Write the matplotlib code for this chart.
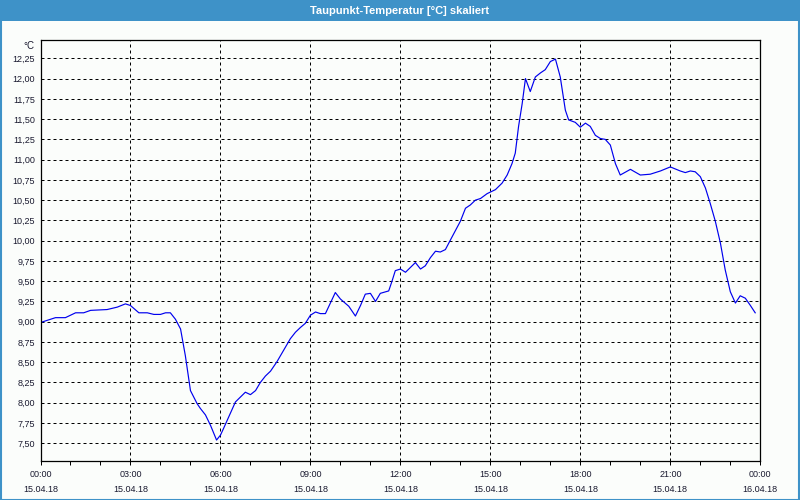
import matplotlib.pyplot as plt
from matplotlib.patches import Rectangle

# hours since 15.04.18 00:00
hours = [0, 0.5, 0.83, 1.17, 1.44, 1.67, 2.22, 2.56, 2.83, 3.0, 3.28, 3.56, 3.78, 4.0,
         4.17, 4.33, 4.5, 4.67, 4.83, 5.0, 5.22, 5.33, 5.5, 5.67, 5.87, 6.0, 6.1, 6.33,
         6.5, 6.83, 7.0, 7.17, 7.33, 7.5, 7.67, 7.89, 8.11, 8.33, 8.5, 8.67, 8.83, 9.0,
         9.17, 9.33, 9.5, 9.83, 10.0, 10.28, 10.5, 10.67, 10.83, 11.0, 11.17, 11.33,
         11.61, 11.72, 11.83, 12.0, 12.17, 12.5, 12.67, 12.83, 13.0, 13.17, 13.33, 13.5,
         13.67, 14.0, 14.17, 14.33, 14.5, 14.67, 14.89, 15.17, 15.39, 15.56, 15.72,
         15.83, 15.94, 16.06, 16.17, 16.33, 16.5, 16.67, 16.83, 17.0, 17.17, 17.33,
         17.5, 17.61, 17.83, 18.0, 18.17, 18.33, 18.5, 18.67, 18.83, 19.0, 19.17,
         19.33, 19.67, 20.0, 20.33, 20.67, 21.0, 21.33, 21.5, 21.67, 21.83, 22.0,
         22.17, 22.33, 22.5, 22.67, 22.83, 23.0, 23.17, 23.33, 23.5, 23.67, 23.83]
dewpoint = [8.99, 9.05, 9.05, 9.11, 9.11, 9.14, 9.15, 9.18, 9.22, 9.20, 9.11, 9.11, 9.09, 9.09,
            9.11, 9.11, 9.03, 8.91, 8.58, 8.15, 7.99, 7.93, 7.85, 7.72, 7.54, 7.60, 7.68, 7.87,
            8.01, 8.13, 8.10, 8.15, 8.25, 8.33, 8.39, 8.51, 8.65, 8.79, 8.87, 8.93, 8.98, 9.08,
            9.12, 9.10, 9.10, 9.36, 9.28, 9.19, 9.07, 9.20, 9.34, 9.35, 9.25, 9.35,
            9.38, 9.50, 9.63, 9.65, 9.61, 9.73, 9.65, 9.69, 9.79, 9.87, 9.86, 9.89,
            10.01, 10.24, 10.40, 10.44, 10.50, 10.52, 10.58, 10.63, 10.71, 10.81, 10.95,
            11.08, 11.41, 11.69, 12.00, 11.84, 12.02, 12.07, 12.11, 12.21, 12.24, 12.02,
            11.61, 11.49, 11.46, 11.40, 11.45, 11.41, 11.30, 11.26, 11.25, 11.18, 10.95,
            10.81, 10.88, 10.81, 10.82, 10.86, 10.91, 10.86, 10.84, 10.86, 10.85, 10.79,
            10.65, 10.46, 10.24, 9.97, 9.64, 9.37, 9.23, 9.32, 9.29, 9.20, 9.11]

major_hours = [0, 3, 6, 9, 12, 15, 18, 21, 24]
major_labels = ["00:00\n15.04.18", "03:00\n15.04.18", "06:00\n15.04.18", "09:00\n15.04.18",
                "12:00\n15.04.18", "15:00\n15.04.18", "18:00\n15.04.18", "21:00\n15.04.18",
                "00:00\n16.04.18"]
y_ticks = [7.5 + 0.25 * i for i in range(20)]
y_labels = [f"{v:.2f}".replace(".", ",") for v in y_ticks]

title_blue = "#3e92c8"
bg = "#fbfdfb"
text_col = "#1a1a30"
font = "Liberation Sans"

fig = plt.figure(figsize=(8, 5), dpi=100, facecolor=bg)

# title bar and border
fig.patches.append(Rectangle((0, 1 - 20.5 / 500), 1, 20.5 / 500, transform=fig.transFigure,
                             facecolor=title_blue, edgecolor="none"))
fig.patches.append(Rectangle((0.5 / 800, 0.5 / 500), 1 - 1.5 / 800, 1 - 1.5 / 500,
                             transform=fig.transFigure, facecolor="none",
                             edgecolor=title_blue, linewidth=1.5))
fig.text(0.5, 1 - 10.5 / 500, "Taupunkt-Temperatur [°C] skaliert", color="white",
         ha="center", va="center", fontsize=8, fontweight="semibold", family=font)

ax = fig.add_axes([40.5 / 800, 39.3 / 500, 719.8 / 800, 420.7 / 500])
ax.set_facecolor(bg)
ax.plot(hours, dewpoint, color="#0000ee", linewidth=0.85)

ax.set_xlim(0, 24)
ax.set_ylim(7.285, 12.476)
ax.set_xticks(major_hours)
ax.set_xticklabels(major_labels)
ax.set_xticks(range(25), minor=True)
ax.set_yticks(y_ticks)
ax.set_yticklabels(y_labels)

ax.grid(True, color="black", linestyle=(0, (3, 3)), linewidth=0.72)
ax.tick_params(axis="x", which="both", direction="out", length=3, width=0.72,
               labelsize=6.5, labelcolor=text_col, pad=4)
ax.tick_params(axis="y", length=0, labelsize=6.5, labelcolor=text_col, pad=4)
for lbl in ax.get_xticklabels() + ax.get_yticklabels():
    lbl.set_family(font)
for lbl in ax.get_xticklabels():
    lbl.set_linespacing(1.85)
for s in ax.spines.values():
    s.set_linewidth(0.9)
    s.set_color("black")

ax.text(-0.008, 0.997, "°C", transform=ax.transAxes, ha="right", va="top",
        fontsize=7, color=text_col, family=font)

fig.savefig("out.png", dpi=100, facecolor=bg)
